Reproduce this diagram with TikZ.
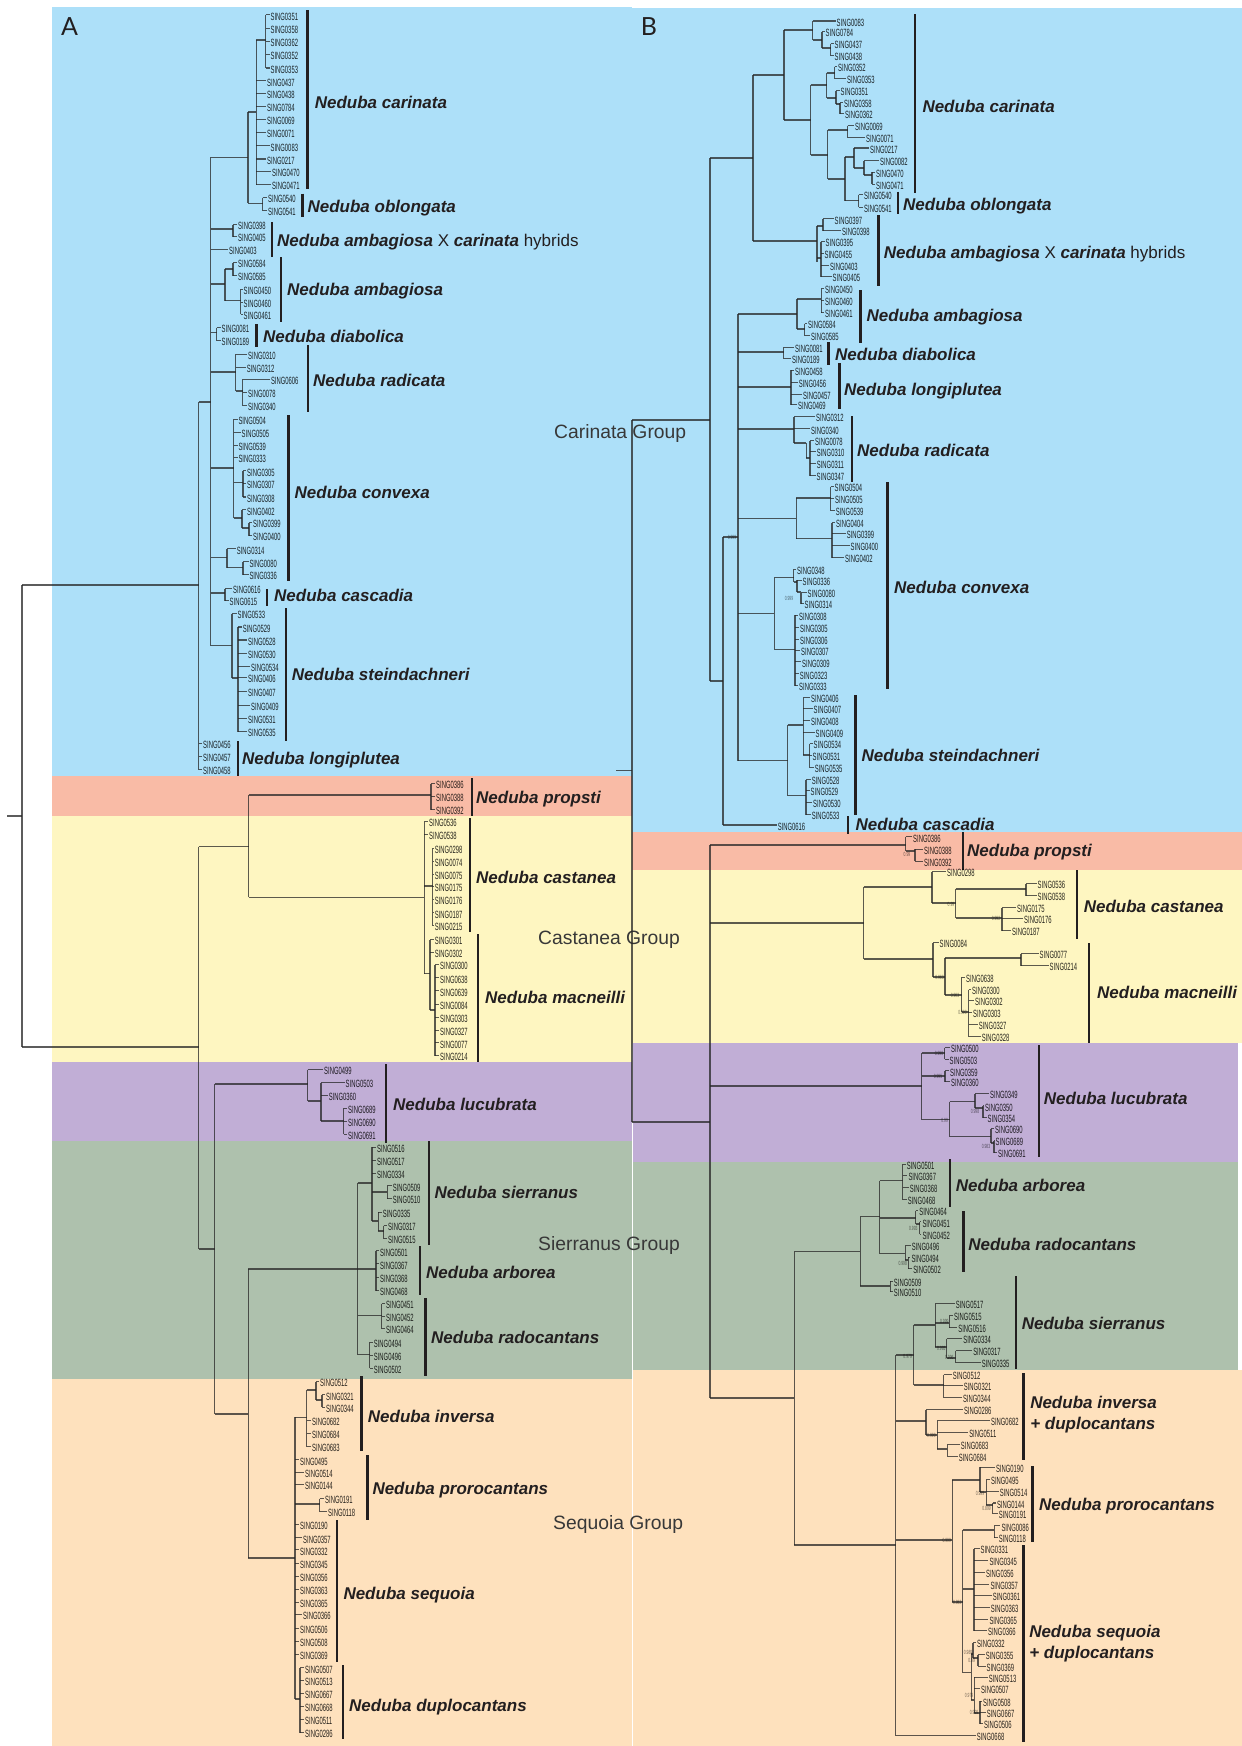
\documentclass[tikz,border=0pt]{standalone}
\usepackage{fontspec}
\setmainfont{Liberation Sans}
\newfontfamily\leaff[FakeStretch=0.56]{Liberation Sans}
\newfontfamily\panelf{Lato}
\definecolor{bblue}{HTML}{ADE0F9}
\definecolor{bsalm}{HTML}{F9BBA6}
\definecolor{byell}{HTML}{FEF6C1}
\definecolor{bpurp}{HTML}{C1AED6}
\definecolor{bgren}{HTML}{AEC1AD}
\definecolor{bpeac}{HTML}{FEE1BD}
\definecolor{inkd}{HTML}{231F20}
\tikzset{
 br/.style={draw=black!85,opacity=.75,line width=1.15pt,line cap=butt},
 leaf/.style={anchor=west,inner ysep=0pt,inner xsep=.8pt,opacity=.85,text=black,font=\leaff\fontsize{10.5}{10.5}\selectfont,text height=10.5pt,text depth=0pt},
 cbar/.style={draw=inkd,line width=2.4pt},
 clab/.style={anchor=west,inner sep=0pt,text=inkd,font=\fontsize{17}{17}\selectfont\bfseries\itshape,text height=12pt,text depth=0pt},
 grp/.style={anchor=west,inner sep=0pt,text=black!78,font=\fontsize{19.3}{19.3}\selectfont,text height=14pt,text depth=0pt},
 panel/.style={anchor=center,inner sep=0pt,text=inkd,font=\panelf\fontsize{25}{25}\selectfont},
 supp/.style={inner sep=0pt,opacity=.55,text=black,font=\leaff\fontsize{6}{6}\selectfont}
}
\def\pfx{A}
\newcommand\lf[4]{\node[leaf] (\pfx#4) at ({#3-.8},{#2-1.5}) {SING#4};\draw[br] (#1,{#2-1.5}) -- (\pfx#4.west);}
\newcommand\lfs[3]{\foreach \yy/\nn in {#3}{\lf{#1}{\yy}{#2}{\nn}}}
\newcommand\cl[5]{\draw[br] (#1,#2) -- (#3,#2);\draw[br] (#3,#4) -- (#3,#5);}
\newcommand\spc[6]{\node[clab] (\pfx#1) at (#5,#6) {Neduba #1};\draw[cbar] (#2,#3) -- (#2,#4);}
\newcommand\sptxt[7]{\node[clab] (\pfx#1) at (#5,#6) {#7};\draw[cbar] (#2,#3) -- (#2,#4);}
\newcommand\sv[3]{\node[supp] at (#1,#2) {#3};}
\begin{document}
\begin{tikzpicture}[x=1pt,y=-1pt]
\useasboundingbox (0,0) rectangle (1242,1746);
\fill[white] (0,0) rectangle (1242,1746);
% bands A
\fill[bblue] (52,7) rectangle (632,776);
\fill[bsalm] (52,776) rectangle (632,816);
\fill[byell] (52,816) rectangle (632,1062);
\fill[bpurp] (52,1062) rectangle (632,1141);
\fill[bgren] (52,1141) rectangle (632,1379);
\fill[bpeac] (52,1379) rectangle (632,1746);
% bands B
\fill[bblue] (632,8) rectangle (1242,832);
\fill[bsalm] (632,832) rectangle (1242,870);
\fill[byell] (632,870) rectangle (1242,1043);
\fill[bpurp] (633,1043) rectangle (1238,1162);
\fill[bgren] (633,1162) rectangle (1238,1370);
\fill[bpeac] (633,1370) rectangle (1242,1746);
\node[panel] (panelA) at (69.5,27) {A};
\node[panel] (panelB) at (649,27) {B};
\node[grp] (gCar) at (554,431) {Carinata Group};
\node[grp] (gCas) at (538,937) {Castanea Group};
\node[grp] (gSie) at (538,1243) {Sierranus Group};
\node[grp] (gSeq) at (553,1522) {Sequoia Group};
%%%%%%%%%%%% PANEL A
\def\pfx{A}
\draw[br] (7,816) -- (22,816);
\draw[br] (22,585) -- (22,1047);
\draw[br] (22,585) -- (198.5,585);
\draw[br] (22,1047) -- (198.5,1047);
\draw[br] (198.5,402) -- (198.5,769.5);
\draw[br] (198.5,402) -- (210.5,402);
\draw[br] (210.5,157.3) -- (210.5,645.7);
\lfs{198.5}{203}{745/0456,758/0457,771/0458}
% carinata
\cl{210.5}{157.3}{248}{112}{203.3}
\cl{248}{112}{256.3}{40}{184.5}
\cl{256.3}{40}{265.5}{14.8}{68}
\lfs{265.5}{270.4}{16.3/0351,29.7/0358,43/0362,56/0352,69.5/0353}
\lfs{256.3}{267}{82.3/0437,95/0438,108/0784,121/0069,134/0071,160.5/0217}
\lf{256.3}{147.3}{270.4}{0083}
\lfs{256.3}{272}{173/0470,186/0471}
\cl{248}{203.3}{262.5}{197.5}{210.5}
\lfs{262.5}{268}{199/0540,212/0541}
\spc{carinata}{307.3}{10}{189.3}{314.6}{102.3}
\spc{oblongata}{302.5}{193.5}{216.7}{307.4}{206}
% hybrids
\cl{210.5}{229}{233}{224.5}{236.5}
\lfs{233}{238}{226/0398,238/0405}
\lf{210.5}{251}{229}{0403}
\sptxt{hybA}{272}{222}{257}{277}{240}{Neduba ambagiosa {\mdseries\upshape X} carinata {\mdseries\upshape hybrids}}
% ambagiosa
\cl{210.5}{284}{225}{269}{300.7}
\cl{225}{269}{233}{262.5}{275.5}
\lfs{233}{238}{264/0584,277/0585}
\cl{225}{300.7}{240.5}{289.2}{314.2}
\lfs{240.5}{243.5}{290.7/0450,303.7/0460,315.7/0461}
\spc{ambagiosa}{280.8}{257}{322}{287}{289}
% diabolica
\cl{210.5}{332.7}{216.5}{327.5}{340.5}
\lfs{216.5}{221.5}{329/0081,342/0189}
\spc{diabolica}{256.3}{324}{347}{263}{336}
% radicata
\cl{210.5}{372}{235.5}{354.2}{391}
\lf{235.5}{355.7}{248}{0310}
\lf{235.5}{368.7}{246.7}{0312}
\cl{235.5}{391}{242.7}{379.2}{405.5}
\lf{242.7}{380.7}{270.8}{0606}
\lfs{242.7}{248}{393.7/0078,407/0340}
\spc{radicata}{307.7}{345}{412}{313}{380}
% convexa
\cl{210.5}{468}{233.5}{419.2}{518}
\lf{233.5}{420.7}{238.3}{0504}
\lf{233.5}{433.7}{241.5}{0505}
\lf{233.5}{446.7}{238.3}{0539}
\lf{233.5}{459}{238.3}{0333}
\cl{233.5}{482.7}{243}{470.8}{497}
\lfs{243}{247}{472.3/0305,485/0307,498.5/0308}
\cl{233.5}{518}{242}{509.8}{528}
\lf{242}{511.3}{247}{0402}
\cl{242}{528}{249}{522.5}{535.5}
\lfs{249}{253}{524/0399,537/0400}
\cl{210.5}{557.3}{227}{548.8}{567.7}
\lf{227}{550.3}{236.7}{0314}
\cl{227}{567.7}{243}{561.8}{574.5}
\lfs{243}{249.3}{563.3/0080,576/0336}
\spc{convexa}{288.5}{415}{581}{294.5}{492}
% cascadia
\cl{210.5}{593}{225}{588.5}{600.5}
\lf{225}{590}{233}{0616}
\lf{225}{602}{229.5}{0615}
\spc{cascadia}{266.8}{589}{606}{274}{595}
% steindachneri
\cl{210.5}{645.7}{232}{613.5}{678}
\lf{232}{615}{237.4}{0533}
\cl{232}{678}{238}{627}{731.5}
\lf{238}{628.5}{242.7}{0529}
\lfs{238}{248}{641.5/0528,655/0530,679/0406,693/0407,719.7/0531,733/0535}
\lfs{238}{251}{668/0534,706.7/0409}
\spc{steindachneri}{286}{608}{741}{291.7}{674}
\spc{longiplutea}{238}{741}{776}{242}{758}
% propsti + castanea
\draw[br] (198.5,846.7) -- (198.5,1249);
\draw[br] (198.5,846.7) -- (248.5,846.7);
\draw[br] (248.5,795) -- (248.5,897.3);
\cl{248.5}{795}{431}{783.5}{809.5}
\lfs{431}{436}{785/0386,798/0388,811/0392}
\spc{propsti}{471.7}{778}{816}{476}{797}
\cl{248.5}{897.3}{424.3}{821.5}{973.7}
\lfs{424.3}{429}{823/0536,836/0538}
\cl{424.3}{886}{432.7}{848.2}{925.5}
\lfs{432.7}{434.7}{849.7/0298,862.7/0074,876/0075,888/0175,901/0176,914.3/0187,927/0215}
\spc{castanea}{469.7}{818}{932}{476}{877}
\cl{424.3}{973.7}{430}{939.5}{1010}
\lfs{430}{434.7}{941/0301,954/0302}
\cl{430}{1010}{435}{964.5}{1055.5}
\lfs{435}{440}{966/0300,979.3/0638,992.3/0639,1006/0084,1019/0303,1032/0327,1044.3/0077,1057/0214}
\spc{macneilli}{478}{934}{1062}{485}{997}
% lucubrata etc
\draw[br] (198.5,1249) -- (214.5,1249);
\draw[br] (214.5,1084) -- (214.5,1414);
\cl{214.5}{1084}{307.7}{1069.5}{1101}
\lf{307.7}{1071}{324}{0499}
\cl{307.7}{1101}{321}{1082.5}{1121}
\lf{321}{1084}{345.5}{0503}
\lf{321}{1097}{328.6}{0360}
\cl{321}{1121}{343.7}{1108.2}{1134.2}
\lfs{343.7}{348}{1109.7/0689,1122.7/0690,1135.7/0691}
\spc{lucubrata}{386}{1064}{1143}{393}{1104}
% sierranus group
\draw[br] (214.5,1414) -- (248.3,1414);
\draw[br] (248.3,1269) -- (248.3,1558);
\draw[br] (248.3,1269) -- (376,1269);
\draw[br] (357.7,1183) -- (357.7,1354.7);
\cl{357.7}{1183}{372}{1147.2}{1221}
\lfs{372}{377}{1148.7/0516,1162/0517,1175/0334}
\cl{372}{1192}{387.3}{1185.8}{1198.5}
\lfs{387.3}{392.7}{1187.3/0509,1200/0510}
\cl{372}{1221}{378.3}{1212.2}{1231}
\lf{378.3}{1213.7}{382.7}{0335}
\cl{378.3}{1231}{383.5}{1225.5}{1238.5}
\lfs{383.5}{388}{1227/0317,1240/0515}
\spc{sierranus}{428.7}{1141}{1244.5}{434.3}{1192}
\draw[br] (376,1250.8) -- (376,1290.5);
\lfs{376}{380}{1252.3/0501,1265.3/0367,1278.7/0368,1292/0468}
\spc{arborea}{420}{1246}{1294.5}{426}{1272.5}
\cl{357.7}{1315.3}{381.7}{1303.5}{1328.5}
\lfs{381.7}{386}{1305/0451,1318/0452,1330/0464}
\cl{357.7}{1354.7}{369.5}{1342.2}{1368.2}
\lfs{369.5}{373.7}{1343.7/0494,1357/0496,1369.7/0502}
\spc{radocantans}{425.3}{1298}{1376}{431}{1337}
% sequoia group
\draw[br] (248.3,1558) -- (295,1558);
\draw[br] (295,1417.3) -- (295,1699);
\cl{295}{1417.3}{306.7}{1390}{1446.5}
\lfs{306.7}{312}{1422/0682,1434.7/0684,1448/0683}
\cl{306.7}{1390}{316}{1381.5}{1400}
\lf{316}{1383}{320}{0512}
\cl{316}{1400}{322}{1394.8}{1407.2}
\lfs{322}{326}{1396.3/0321,1408.7/0344}
\spc{inversa}{361.3}{1376}{1451}{367.7}{1416.3}
\lf{295}{1461.3}{300}{0495}
\lfs{295}{305}{1473.7/0514,1486/0144}
\cl{295}{1504}{319.7}{1498.5}{1511.5}
\lf{319.7}{1500}{325}{0191}
\lf{319.7}{1513}{328}{0118}
\spc{prorocantans}{367.3}{1455}{1520}{372.3}{1488}
\lfs{295}{300}{1526/0190,1551.3/0332,1564.7/0345,1578/0356,1591/0363,1604/0365,1629.7/0506,1642.7/0508,1656/0369}
\lfs{295}{303}{1539.3/0357,1616/0366}
\spc{sequoia}{337}{1520}{1662}{343.3}{1593}
\cl{295}{1699}{300}{1667.8}{1732.5}
\lfs{300}{305}{1669.3/0507,1682/0513,1694.7/0667,1707.7/0668,1721/0511,1734/0286}
\spc{duplocantans}{342.7}{1665}{1739}{349}{1705}
%%%%%%%%%%%% PANEL B
\def\pfx{B}
\draw[br] (616,770.7) -- (632,770.7);
\draw[br] (632,420) -- (632,1122);
\draw[br] (632,420) -- (710,420);
\draw[br] (632,1122) -- (710,1122);
\draw[br] (710,158) -- (710,681);
\draw[br] (710,158) -- (753,158);
\draw[br] (753,75) -- (753,241);
\cl{753}{75}{784}{30}{120}
\cl{784}{30}{812.5}{21}{40}
\lf{812.5}{22.5}{836.5}{0083}
\cl{812.5}{40}{822}{31.5}{48}
\lf{822}{33}{825.5}{0784}
\cl{822}{48}{830.5}{43.5}{55.5}
\lfs{830.5}{834.5}{45/0437,57/0438}
\cl{784}{120}{810.5}{85}{155}
\cl{810.5}{85}{826.5}{73}{98}
\cl{826.5}{73}{834.5}{66.5}{78.5}
\lf{834.5}{68}{838}{0352}
\lf{834.5}{80}{847}{0353}
\cl{826.5}{98}{836}{90.5}{104}
\lf{836}{92}{840.5}{0351}
\cl{836}{104}{840}{102.5}{113.5}
\lf{840}{104}{844}{0358}
\lf{840}{115}{845}{0362}
\cl{810.5}{155}{827.5}{130}{179}
\cl{827.5}{130}{847.5}{125.5}{137.5}
\lf{847.5}{127}{855}{0069}
\lf{847.5}{139}{866}{0071}
\cl{827.5}{179}{845}{157}{200.7}
\cl{845}{157}{854}{148}{168}
\lf{854}{149.5}{870}{0217}
\cl{854}{168}{864}{160.5}{175}
\lf{864}{162}{880}{0082}
\cl{864}{175}{872}{172.2}{184.2}
\lfs{872}{876}{173.7/0470,185.7/0471}
\cl{845}{200.7}{858.5}{194.5}{207.2}
\lfs{858.5}{864}{196/0540,208.7/0541}
\spc{carinata}{915}{14}{193}{922.3}{106}
\spc{oblongata}{897.8}{191.5}{214}{903}{204}
% hybrids
\cl{753}{241}{817}{226}{262}
\cl{817}{226}{823}{218.8}{230.5}
\lf{823}{220.3}{834.5}{0397}
\lf{823}{232}{842}{0398}
\cl{817}{258}{821}{241.5}{276.5}
\lf{821}{243}{825.5}{0395}
\lf{821}{255}{824.4}{0455}
\lf{821}{267}{830}{0403}
\lf{821}{278}{832.5}{0405}
\sptxt{hybB}{878.6}{215}{286}{883.7}{252}{Neduba ambagiosa {\mdseries\upshape X} carinata {\mdseries\upshape hybrids}}
% carinata group rest
\draw[br] (710,681) -- (723,681);
\draw[br] (723,537) -- (723,825);
\draw[br] (723,537) -- (738,537);
\draw[br] (738,314) -- (738,760.7);
\lf{723}{826.5}{777.6}{0616}
\cl{738}{314}{797}{299}{329}
\cl{797}{299}{821.3}{288.5}{312.5}
\lfs{821.3}{825}{290/0450,302/0460,314/0461}
\cl{797}{329}{804.5}{323.5}{335.5}
\lf{804.5}{325}{808}{0584}
\lf{804.5}{337}{811}{0585}
\spc{ambagiosa}{860.3}{290}{342.7}{866.5}{315}
\cl{738}{352}{783.5}{347.2}{358.5}
\lf{783.5}{348.7}{795}{0081}
\lf{783.5}{360}{792}{0189}
\spc{diabolica}{828.3}{342}{365}{835}{354.3}
\cl{738}{387}{791}{370.2}{404.5}
\lf{791}{371.7}{795}{0458}
\lf{791}{383.7}{798.6}{0456}
\lf{791}{395.7}{803}{0457}
\lf{791}{406}{798}{0469}
\spc{longiplutea}{839.6}{363}{409}{844}{389}
\cl{738}{429}{794}{416.5}{443}
\lf{794}{418}{816}{0312}
\lf{794}{430.3}{811}{0340}
\cl{794}{443}{806.4}{443}{458}
\draw[br] (806.4,458) -- (810,458);
\draw[br] (810,440.5) -- (810,475.5);
\lf{810}{442}{815}{0078}
\lf{810}{453}{816.7}{0310}
\lf{810}{465}{816.7}{0311}
\lf{810}{477}{816.5}{0347}
\spc{radicata}{851.7}{416}{482}{857}{450}
\cl{738}{518.3}{796.3}{498}{538.7}
\cl{796.3}{498}{830.5}{486.5}{510.5}
\lf{830.5}{488}{834.5}{0504}
\lf{830.5}{500}{835}{0505}
\lf{830.5}{512}{835.7}{0539}
\cl{796.3}{538.7}{832}{522.5}{557.5}
\lf{832}{524}{836}{0404}
\lf{832}{535}{846.6}{0399}
\lf{832}{547}{850.5}{0400}
\lf{832}{559}{845}{0402}
\cl{738}{613.7}{774.4}{577.7}{649.3}
\cl{774.4}{577.7}{793.7}{569.2}{582}
\lf{793.7}{570.7}{797}{0348}
\cl{793.7}{582}{797}{580.2}{592}
\lf{797}{581.7}{802.5}{0336}
\cl{797}{592}{801}{592.5}{603.5}
\lf{801}{594}{807.5}{0080}
\lf{801}{605}{804.5}{0314}
\cl{774.4}{649.3}{795}{615.2}{685.5}
\lf{795}{616.7}{799}{0308}
\lf{795}{628.7}{800}{0305}
\lf{795}{640.7}{800}{0306}
\lf{795}{652}{801}{0307}
\lf{795}{663.3}{802}{0309}
\lf{795}{675.3}{799.7}{0323}
\lf{795}{687}{799}{0333}
\spc{convexa}{887.6}{482}{689}{894}{587}
\cl{738}{760.7}{787.5}{725}{795.7}
\cl{787.5}{725}{803.3}{697.5}{755}
\lf{803.3}{699}{811}{0406}
\lf{803.3}{710}{813.5}{0407}
\lf{803.3}{722}{811}{0408}
\lf{803.3}{734}{815.5}{0409}
\cl{803.3}{755}{809.5}{743.5}{767.5}
\lf{809.5}{745}{813.5}{0534}
\lf{809.5}{757}{812.5}{0531}
\lf{809.5}{769}{814.7}{0535}
\cl{787.5}{795.7}{806}{779.5}{814.5}
\lf{806}{781}{811.7}{0528}
\lf{806}{792}{810.5}{0529}
\lf{806}{804}{813}{0530}
\lf{806}{816}{811.7}{0533}
\spc{steindachneri}{855.6}{695}{815}{861.5}{755}
\spc{cascadia}{847.8}{816}{834}{855.5}{824}
% propsti
\draw[br] (710,845) -- (710,1398);
\cl{710}{845}{905.5}{836.8}{851}
\lf{905.5}{838.3}{913}{0386}
\cl{905.5}{851}{915}{849.2}{861.2}
\lfs{915}{924}{850.7/0388,862.7/0392}
\spc{propsti}{963}{832}{870}{967}{850}
% castanea
\cl{710}{923}{863.6}{887}{959}
\cl{863.6}{887}{932}{871.5}{903}
\lf{932}{873}{947}{0298}
\cl{932}{903}{955.6}{889}{918}
\cl{955.6}{889}{1026}{883.5}{895.5}
\lfs{1026}{1037.5}{885/0536,897/0538}
\cl{955.6}{918}{1002}{907.5}{930.5}
\lf{1002}{909}{1017}{0175}
\lf{1002}{920}{1024}{0176}
\lf{1002}{932}{1012}{0187}
\spc{castanea}{1077}{870}{939}{1083.6}{906}
\cl{863.6}{959}{933}{942.5}{977}
\lf{933}{944}{939.5}{0084}
\cl{933}{977}{945}{958}{995}
\cl{945}{958}{1021}{953.5}{965.5}
\lf{1021}{955}{1039.5}{0077}
\lf{1021}{967}{1049.5}{0214}
\cl{945}{995}{961.5}{977.2}{1012}
\lf{961.5}{978.7}{966}{0638}
\cl{961.5}{1012}{968.5}{989.5}{1036.5}
\lf{968.5}{991}{972}{0300}
\lf{968.5}{1002}{975}{0302}
\lf{968.5}{1014}{973}{0303}
\lf{968.5}{1025.7}{978.7}{0327}
\lf{968.5}{1038}{981.7}{0328}
\spc{macneilli}{1089}{943}{1043}{1097}{992}
% lucubrata
\cl{710}{1086}{921.5}{1053}{1119.7}
\cl{921.5}{1053}{944.5}{1047.5}{1059.2}
\lf{944.5}{1049}{951}{0500}
\lf{944.5}{1060.7}{949.5}{0503}
\cl{921.5}{1076}{945}{1070.8}{1081.5}
\lf{945}{1072.3}{950}{0359}
\lf{945}{1083}{951}{0360}
\cl{921.5}{1119.7}{949.5}{1101.7}{1136.7}
\cl{949.5}{1101.7}{975}{1093.5}{1108}
\lf{975}{1095}{990}{0349}
\cl{975}{1108}{983}{1105.8}{1117.5}
\lf{983}{1107.3}{985}{0350}
\lf{983}{1119}{987.5}{0354}
\cl{949.5}{1136.7}{991}{1128.5}{1143}
\lf{991}{1130}{995}{0690}
\cl{991}{1143}{994}{1140.5}{1152.5}
\lf{994}{1142}{995.5}{0689}
\lf{994}{1154}{998}{0691}
\spc{lucubrata}{1038.7}{1045}{1157}{1043.7}{1098}
\foreach \a/\b/\c in {732/537.7/0.999,789/598/0.999,907/854/0.99,951/904/0.99,996/918/0.992,939.5/977/0.983,955/995/0.903,962.5/1012/0.990,939/1053/0.990,938/1076/0.995,944.6/1120/0.99,975/1111/0.998,986/1146/0.983}{\sv{\a}{\b}{\c}}
% sierranus + sequoia
\draw[br] (710,1398) -- (794.3,1398);
\begin{scope}[xshift=6.84pt,xscale=.991]
\draw[br] (794.6,1251.7) -- (794.6,1545);
\cl{794.6}{1251.7}{861.4}{1216.7}{1286}
\cl{861.4}{1216.7}{881}{1180.7}{1253.7}
\cl{881}{1180.7}{904}{1164.2}{1199.5}
\lf{904}{1165.7}{908}{0501}
\lf{904}{1176.7}{909.7}{0367}
\lf{904}{1188.7}{911}{0368}
\lf{904}{1201}{909}{0468}
\spc{arborea}{951.7}{1159}{1207}{957.4}{1185}
\cl{881}{1218}{917}{1210.5}{1224}
\lf{917}{1212}{920.7}{0464}
\cl{917}{1224}{921}{1221.8}{1234.2}
\lfs{921}{923.8}{1223.3/0451,1235.7/0452}
\cl{881}{1253.7}{906.5}{1245.5}{1260}
\lf{906.5}{1247}{913}{0496}
\cl{906.5}{1260}{909.5}{1257.2}{1268.5}
\lf{909.5}{1258.7}{912.7}{0494}
\lf{909.5}{1270}{914.5}{0502}
\spc{radocantans}{965.2}{1211}{1272}{970}{1244.7}
\cl{861.4}{1286}{891.5}{1281.2}{1291.5}
\lfs{891.5}{895}{1282.7/0509,1293/0510}
\draw[br] (794.6,1545) -- (897,1545);
\draw[br] (897,1355) -- (897,1735.5);
\cl{897}{1355}{915}{1325}{1385}
\cl{915}{1325}{937}{1303.5}{1347}
\lf{937}{1305}{957.5}{0517}
\cl{937}{1323}{951}{1315.5}{1327.5}
\lf{951}{1317}{955.7}{0515}
\lf{951}{1329}{960}{0516}
\cl{937}{1347}{948.5}{1338.5}{1358}
\lf{948.5}{1340}{965}{0334}
\cl{948.5}{1358}{957.5}{1350.5}{1362.5}
\lf{957.5}{1352}{975}{0317}
\lf{957.5}{1364}{983.7}{0335}
\spc{sierranus}{1018.3}{1276}{1369}{1024}{1323.7}
\cl{915}{1385}{945.5}{1374.5}{1397.5}
\lf{945.5}{1376}{954.4}{0512}
\lf{945.5}{1387}{965.5}{0321}
\lf{945.5}{1399}{964.7}{0344}
\cl{897}{1421}{927.5}{1409.5}{1435}
\lf{927.5}{1411}{965.7}{0286}
\cl{927.5}{1435}{939}{1420.5}{1449}
\lf{939}{1422}{993}{0682}
\lf{939}{1434}{971}{0511}
\cl{939}{1449}{949}{1444.5}{1456.2}
\lf{949}{1446}{962.6}{0683}
\lf{949}{1457.7}{960.5}{0684}
\sptxt{inversa}{1025.7}{1373}{1460}{1032.5}{1402}{Neduba inversa}
\node[clab] (Binversa2) at (1032.5,1423) {+ duplocantans};
\draw[br] (897,1540) -- (954,1540);
\draw[br] (954,1480) -- (954,1602);
\cl{954}{1480}{982}{1467.2}{1492}
\lf{982}{1468.7}{998}{0190}
\cl{982}{1492}{988.5}{1479.5}{1505}
\lf{988.5}{1481}{993}{0495}
\lf{988.5}{1492.7}{1001.8}{0514}
\cl{988.5}{1505}{995}{1503}{1513.5}
\lf{995}{1504.5}{999}{0144}
\lf{995}{1515}{1000.8}{0191}
\draw[br] (954,1602) -- (964.5,1602);
\draw[br] (964.5,1530) -- (964.5,1672.7);
\cl{964.5}{1530}{996.5}{1525.8}{1537.5}
\lf{996.5}{1527.3}{1003.5}{0086}
\lf{996.5}{1539}{1000.8}{0118}
\spc{prorocantans}{1034.8}{1466}{1542}{1041.5}{1504}
\cl{964.5}{1589}{976}{1548.5}{1630.5}
\lf{976}{1550}{982.4}{0331}
\lf{976}{1562}{991.4}{0345}
\lf{976}{1574}{988}{0356}
\lf{976}{1586}{992.4}{0357}
\lf{976}{1597}{994.7}{0361}
\lf{976}{1609}{992.8}{0363}
\lf{976}{1621}{991.4}{0365}
\lf{976}{1632}{990}{0366}
\cl{964.5}{1672.7}{973}{1654}{1700}
\cl{973}{1654}{975}{1642.5}{1658}
\lf{975}{1644}{979}{0332}
\cl{975}{1658}{980}{1654.5}{1666.2}
\lf{980}{1656}{987.7}{0355}
\lf{980}{1667.7}{988.5}{0369}
\cl{973}{1700}{976.3}{1677.2}{1713}
\lf{976.3}{1678.7}{990.7}{0513}
\lf{976.3}{1690}{983}{0507}
\cl{976.3}{1713}{982}{1701.2}{1723.5}
\lf{982}{1702.7}{985}{0508}
\lf{982}{1714}{988.7}{0667}
\lf{982}{1725}{986}{0506}
\lf{897}{1737}{978.6}{0668}
\sptxt{sequoia}{1025.7}{1545}{1742}{1031.5}{1631}{Neduba sequoia}
\node[clab] (Bsequoia2) at (1031.5,1652) {+ duplocantans};
% support values
\foreach \a/\b/\c in {914.7/1228/0.993,904/1263/0.998,946/1321/0.999,943/1348/0.993,951/1357/0.996,909/1356/0.979,933/1435/0.990,948.4/1540/0.999,982/1493/0.999,988.7/1508/0.899,959/1602/0.982,970/1652/0.989,973.6/1660/0.99,971/1695/0.979,976/1712/0.999}{\sv{\a}{\b}{\c}}
\end{scope}
\end{tikzpicture}
\end{document}
